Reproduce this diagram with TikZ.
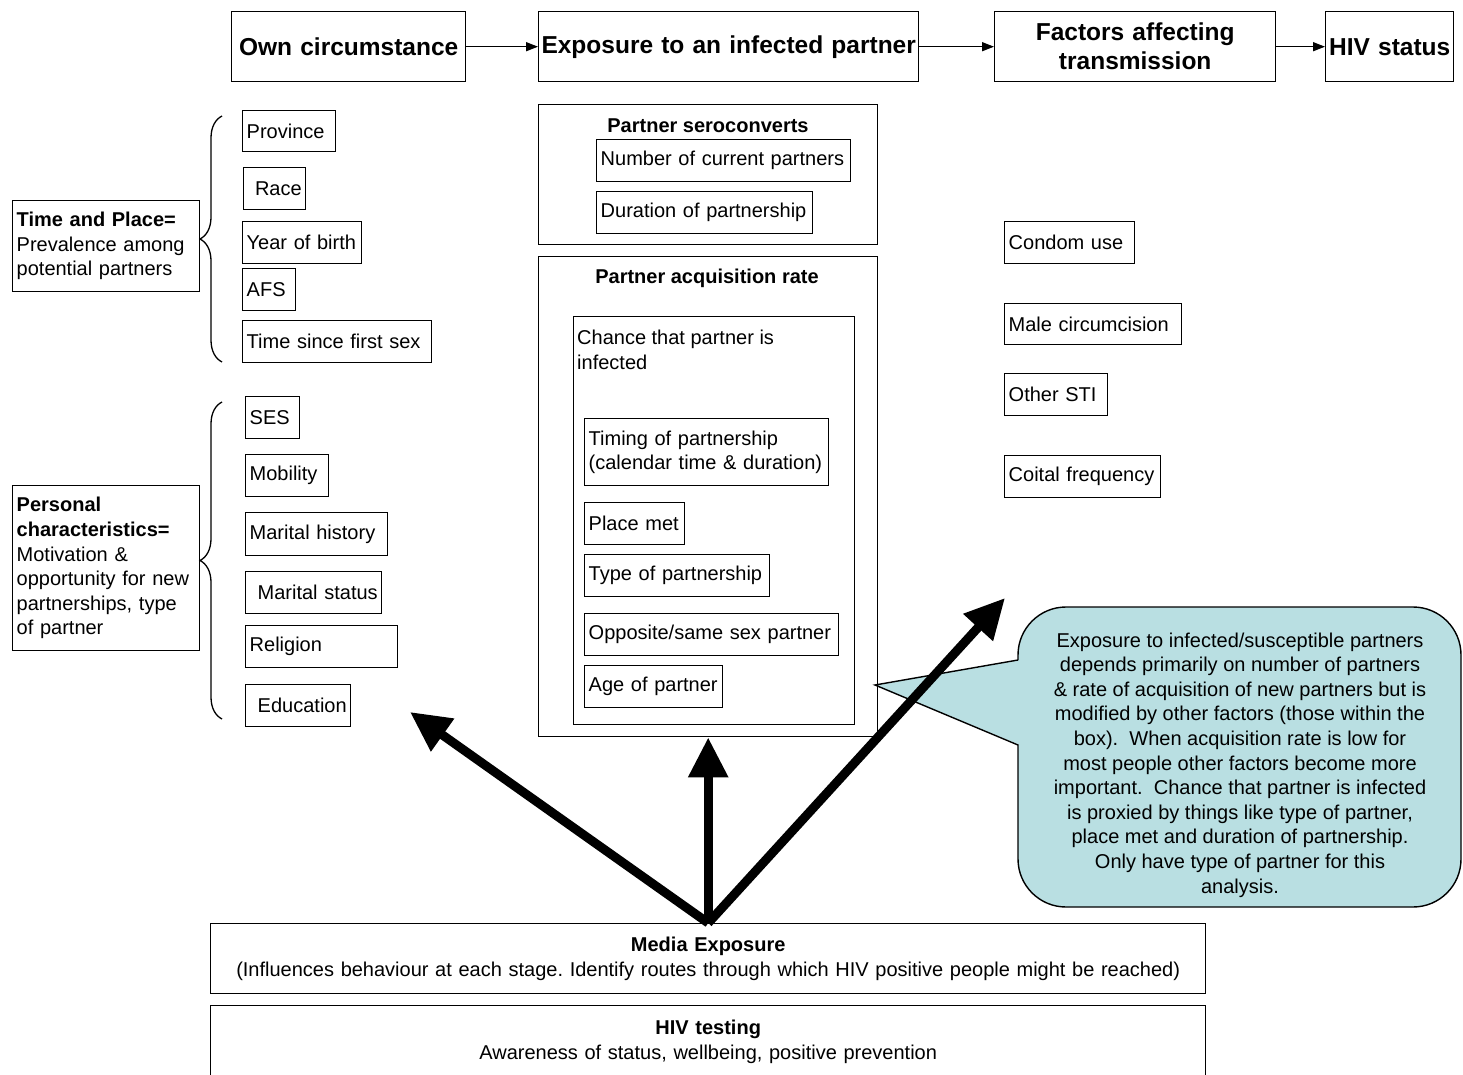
\documentclass[tikz,border=0pt]{standalone}
\usepackage{fontspec}
\setmainfont{Liberation Sans}
\usetikzlibrary{arrows.meta,decorations.pathreplacing}
\definecolor{callfill}{RGB}{185,223,226}
\frenchspacing
\begin{document}
\begin{tikzpicture}[x=1pt,y=-1pt,
  every node/.style={font=\fontsize{20}{24.6}\selectfont},
  bx/.style={draw, line width=1.4pt, anchor=north west, inner xsep=4pt, inner ysep=0pt, align=left},
  frame/.style={draw, line width=1.4pt, anchor=north west, inner sep=0pt},
  hd/.style={draw, line width=1.4pt, anchor=north west, inner xsep=2pt, inner ysep=0pt, align=center, minimum height=70pt, font=\fontsize{24.5}{29}\selectfont\bfseries},
  ttl/.style={font=\fontsize{20}{24.6}\selectfont\bfseries},
  flow/.style={line width=1.4pt, -{Triangle[length=12pt,width=9pt]}},
  big/.style={line width=9pt, -{Triangle[length=40pt,width=38pt]}},
  brc/.style={line width=1.3pt, decorate, decoration={brace, amplitude=22pt, aspect=0.5}},
]
\useasboundingbox (0,0) rectangle (1463,1075);
\clip (0,0) rectangle (1463,1075);

% top row
\node[hd, text width=230pt] (own) at (231,11) {Own circumstance};
\node[hd, text width=376pt] (expo) at (538,11) {Exposure to an infected partner};
\node[hd, text width=277pt] (fact) at (994,11) {Factors affecting\\transmission};
\node[hd, text width=124pt] (hiv) at (1325,11) {HIV status};
\draw[flow] (own) -- (expo);
\draw[flow] (expo) -- (fact);
\draw[flow] (fact) -- (hiv);

% left column
\node[bx, text width=179pt, minimum height=91pt] (tp) at (12,200) {\textbf{Time and Place=}\\Prevalence among\\potential partners};
\node[bx, text width=179pt, minimum height=165pt] (pc) at (12,485) {\textbf{Personal}\\\textbf{characteristics=}\\Motivation \&\\opportunity for new\\partnerships, type\\of partner};
\draw[brc] (222,362) -- (222,116);
\draw[brc] (222,719) -- (222,402);

\node[bx, text width=85pt, minimum height=41pt] (prov) at (242,110) {Province};
\node[bx, text width=54pt, minimum height=42pt, align=right] (race) at (243,167) {Race};
\node[bx, text width=111pt, minimum height=42pt] (yob) at (242,221) {Year of birth};
\node[bx, text width=45pt, minimum height=42pt] (afs) at (242,268) {AFS};
\node[bx, text width=181pt, minimum height=42pt] (tsfs) at (242,320) {Time since first sex};

\node[bx, text width=46pt, minimum height=42pt] (ses) at (245,396) {SES};
\node[bx, text width=75pt, minimum height=42pt] (mob) at (245,454) {Mobility};
\node[bx, text width=134pt, minimum height=43pt] (mhist) at (245,512) {Marital history};
\node[bx, text width=128pt, minimum height=42pt, align=right] (mstat) at (245,571) {Marital status};
\node[bx, text width=144pt, minimum height=42pt] (relig) at (245,625) {Religion};
\node[bx, text width=97pt, minimum height=42pt, align=right] (edu) at (245,684) {Education};

% middle column
\node[frame, minimum width=339pt, minimum height=140pt] (sero) at (538,104) {};
\node[ttl] (serot) at (708,126) {Partner seroconverts};
\node[bx, text width=246pt, minimum height=42pt] (ncp) at (596,139) {Number of current partners};
\node[bx, text width=208pt, minimum height=42pt] (dop) at (596,191) {Duration of partnership};

\node[frame, minimum width=339pt, minimum height=480pt] (acq) at (538,256) {};
\node[ttl] (acqt) at (707,278) {Partner acquisition rate};
\node[frame, minimum width=281pt, minimum height=408pt] (chance) at (573,316) {};
\node[anchor=north west, align=left, inner sep=0pt] (chancet) at (577,330) {Chance that partner is\\infected};
\node[bx, text width=236pt, minimum height=67pt] (timing) at (584,418) {Timing of partnership\\(calendar time \& duration)};
\node[bx, text width=92pt, minimum height=42pt] (place) at (584,502) {Place met};
\node[bx, text width=177pt, minimum height=42pt] (type) at (584,554) {Type of partnership};
\node[bx, text width=246pt, minimum height=42pt] (opp) at (584,613) {Opposite/same sex partner};
\node[bx, text width=130pt, minimum height=42pt] (age) at (584,665) {Age of partner};

% right column
\node[bx, text width=122pt, minimum height=42pt] (condom) at (1004,221) {Condom use};
\node[bx, text width=169pt, minimum height=41pt] (circ) at (1004,303) {Male circumcision};
\node[bx, text width=95pt, minimum height=42pt] (sti) at (1004,373) {Other STI};
\node[bx, text width=148pt, minimum height=42pt] (coital) at (1004,455) {Coital frequency};

% callout
\draw[fill=callfill, line width=1.4pt, rounded corners=48pt] (1018,607) rectangle (1461,907);
\fill[callfill] (875,685) -- (1020,660) -- (1020,745) -- cycle;
\draw[line width=1.4pt, line join=miter] (1018,660) -- (875,685) -- (1018,745);
\node[align=center] (note) at (1240,765) {Exposure to infected/susceptible partners\\depends primarily on number of partners\\\& rate of acquisition of new partners but is\\modified by other factors (those within the\\box).\ \ When acquisition rate is low for\\most people other factors become more\\important.\ \ Chance that partner is infected\\is proxied by things like type of partner,\\place met and duration of partnership.\\Only have type of partner for this\\analysis.};

% bottom
\node[bx, align=center, text width=987pt, minimum height=70pt] (media) at (210,923) {\textbf{Media Exposure}\\(Influences behaviour at each stage. Identify routes through which HIV positive people might be reached)};
\node[bx, align=center, text width=987pt, minimum height=72pt] (test) at (210,1005) {\textbf{HIV testing}\\Awareness of status, wellbeing, positive prevention};

% thick arrows
\coordinate (lt) at (410,712);
\coordinate (rt) at (1005,598);
\draw[big] (media.north) -- (lt);
\draw[big] (media.north) -- (acq.south);
\draw[big] (media.north) -- (rt);
\end{tikzpicture}
\end{document}
